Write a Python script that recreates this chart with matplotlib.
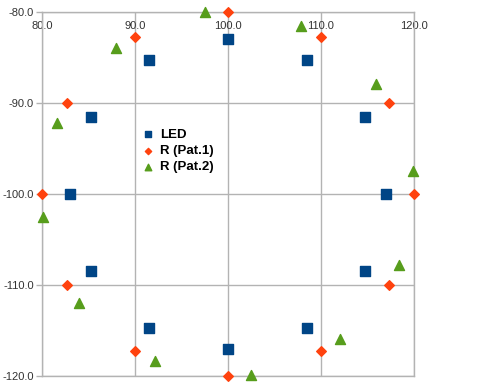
import matplotlib
matplotlib.use("Agg")
import matplotlib.pyplot as plt

plt.rcParams['font.family'] = ['Liberation Sans', 'DejaVu Sans']

led_x = [100.0, 108.5, 114.7, 117.0, 114.7, 108.5, 100.0, 91.5, 85.3, 83.0, 85.3, 91.5]
led_y = [-83.0, -85.3, -91.5, -100.0, -108.5, -114.7, -117.0, -114.7, -108.5, -100.0, -91.5, -85.3]

p1_x = [100.0, 110.0, 117.3, 120.0, 117.3, 110.0, 100.0, 90.0, 82.7, 80.0, 82.7, 90.0]
p1_y = [-80.0, -82.7, -90.0, -100.0, -110.0, -117.3, -120.0, -117.3, -110.0, -100.0, -90.0, -82.7]

p2_x = [97.5, 107.8, 115.9, 119.9, 118.4, 112.0, 102.5, 92.2, 84.0, 80.1, 81.6, 88.0]
p2_y = [-80.0, -81.5, -87.9, -97.5, -107.8, -115.9, -119.9, -118.4, -112.0, -102.5, -92.2, -84.0]

x_ticks = [80, 90, 100, 110, 120]
y_ticks = [-120, -110, -100, -90, -80]

fig = plt.figure(figsize=(4.8, 3.87), dpi=100)
ax = fig.add_axes([42/480, 1-376/387, 372/480, 364/387])

grid_c = '#b3b3b3'
ax.scatter(led_x, led_y, marker='s', s=42, color='#004586', label='LED', zorder=3, clip_on=False)
ax.scatter(p1_x, p1_y, marker='D', s=24, color='#ff420e', label='R (Pat.1)', zorder=3, clip_on=False)
ax.scatter(p2_x, p2_y, marker='^', s=52, color='#579d1c', label='R (Pat.2)', zorder=3, clip_on=False)

ax.set_xlim(80, 120)
ax.set_ylim(-120, -80)
ax.set_xticks(x_ticks)
ax.set_yticks(y_ticks)
ax.set_xticklabels([f"{v:.1f}" for v in x_ticks])
ax.set_yticklabels([f"{v:.1f}" for v in y_ticks])
ax.xaxis.tick_top()
ax.tick_params(axis='x', length=0, pad=-14, labelsize=8, colors='#333333')
ax.tick_params(axis='y', length=4, width=1, color=grid_c, pad=2, labelsize=8, labelcolor='#333333')
ax.grid(True, color=grid_c, linewidth=1)
ax.set_axisbelow(True)
for s in ax.spines.values():
    s.set_color(grid_c)
    s.set_linewidth(1)

leg = ax.legend(loc='upper left', bbox_to_anchor=(0.24, 0.705), frameon=False,
                prop={'size': 9.5, 'weight': 'bold'}, handletextpad=0.3,
                labelspacing=0.3, handlelength=1.2, markerscale=0.65, borderpad=0.2)

fig.savefig('out.png', dpi=100)
